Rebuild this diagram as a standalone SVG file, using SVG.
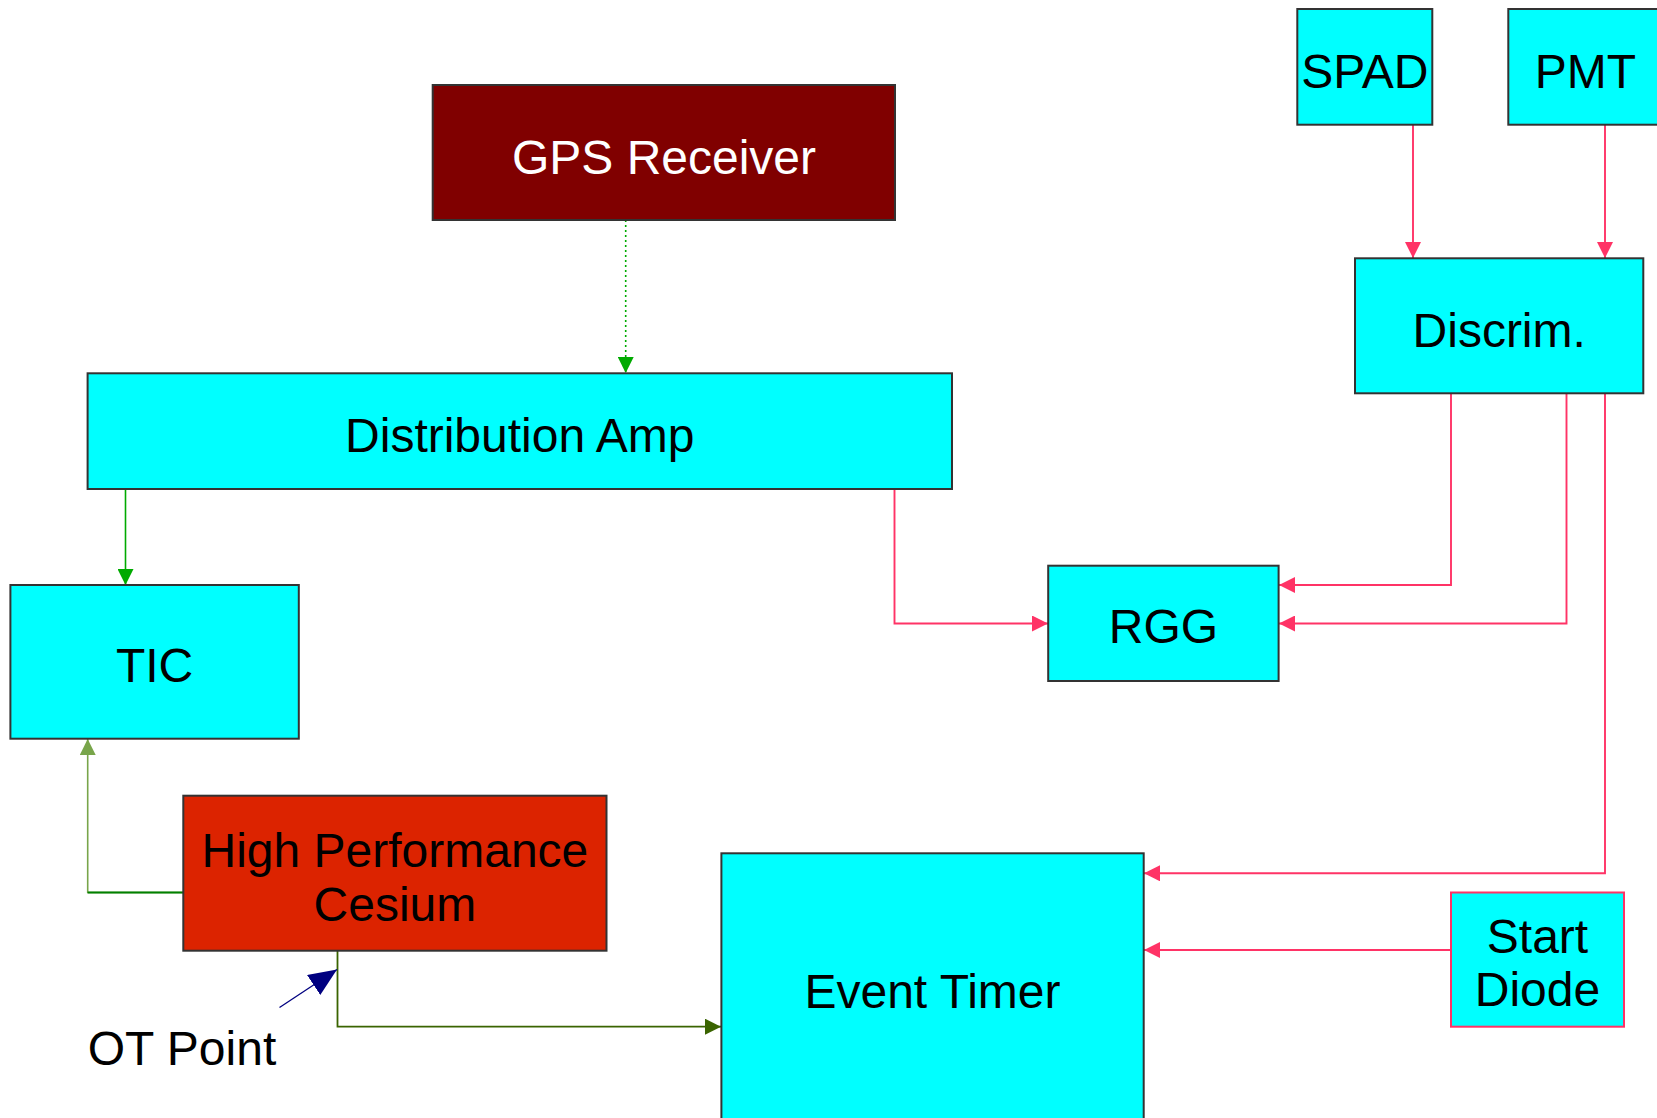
<svg xmlns="http://www.w3.org/2000/svg" width="1657" height="1118" viewBox="0 0 1657 1118">
  <style>
    .box { fill: #00ffff; stroke: #333333; stroke-width: 2; }
    .lbl { font-family: "Liberation Sans", Arial, sans-serif; font-size: 48px; fill: #000000; text-anchor: middle; }
    .pink { fill: none; stroke: #ff3366; stroke-width: 1.9; marker-end: url(#ahPink); }
  </style>
  <defs>
    <marker id="ahPink" markerUnits="userSpaceOnUse" viewBox="0 0 16 16" refX="16" refY="8" markerWidth="16" markerHeight="16" orient="auto">
      <path d="M0,0 L16,8 L0,16 Z" fill="#ff3366"/>
    </marker>
    <marker id="ahGreen" markerUnits="userSpaceOnUse" viewBox="0 0 16 16" refX="16" refY="8" markerWidth="16" markerHeight="16" orient="auto">
      <path d="M0,0 L16,8 L0,16 Z" fill="#00aa00"/>
    </marker>
    <marker id="ahOlive" markerUnits="userSpaceOnUse" viewBox="0 0 16 16" refX="16" refY="8" markerWidth="16" markerHeight="16" orient="auto">
      <path d="M0,0 L16,8 L0,16 Z" fill="#78a54a"/>
    </marker>
    <marker id="ahDark" markerUnits="userSpaceOnUse" viewBox="0 0 16 16" refX="16" refY="8" markerWidth="16" markerHeight="16" orient="auto">
      <path d="M0,0 L16,8 L0,16 Z" fill="#3a6400"/>
    </marker>
    <marker id="ahNavy" markerUnits="userSpaceOnUse" viewBox="0 0 28 24" refX="28" refY="12" markerWidth="28" markerHeight="24" orient="auto">
      <path d="M0,0 L28,12 L0,24 Z" fill="#000080"/>
    </marker>
  </defs>

  <!-- signal paths -->
  <g id="connectors">
    <path d="M625.7,220 V373" fill="none" stroke="#00aa00" stroke-width="1.6" stroke-dasharray="2 3" marker-end="url(#ahGreen)"/>
    <path d="M125.5,489 V585" fill="none" stroke="#00aa00" stroke-width="1.6" marker-end="url(#ahGreen)"/>
    <g>
      <path d="M183,892.5 H87.7 V739" fill="none" stroke="#78a54a" stroke-width="1.6" marker-end="url(#ahOlive)"/>
      <path d="M183,892.5 H87.7" fill="none" stroke="#008000" stroke-width="1.8"/>
    </g>
    <path d="M337.5,951 V1026.7 H721" fill="none" stroke="#3a6400" stroke-width="1.8" marker-end="url(#ahDark)"/>
    <path class="pink" d="M1413,124.7 V258"/>
    <path class="pink" d="M1605,124.7 V258"/>
    <path class="pink" d="M1451,393 V585 H1279"/>
    <path class="pink" d="M1566.5,393 V623.5 H1279"/>
    <path class="pink" d="M1605,393 V873.3 H1144"/>
    <path class="pink" d="M894.5,489 V623.5 H1048"/>
    <path class="pink" d="M1451,950 H1144"/>
    <path d="M279.5,1007.5 L337,969.5" fill="none" stroke="#000080" stroke-width="1.3" marker-end="url(#ahNavy)"/>
  </g>

  <g id="gps-receiver">
    <rect x="432.7" y="85" width="462.3" height="135" fill="#800000" stroke="#333333" stroke-width="2"/>
    <text class="lbl" x="664" y="174" style="fill:#ffffff">GPS Receiver</text>
  </g>

  <g id="spad">
    <rect class="box" x="1297.3" y="9" width="135" height="115.7"/>
    <text class="lbl" x="1364.8" y="88.3">SPAD</text>
  </g>

  <g id="pmt">
    <rect class="box" x="1508.3" y="9" width="160" height="115.7"/>
    <text class="lbl" x="1585.5" y="88.3">PMT</text>
  </g>

  <g id="discrim">
    <rect class="box" x="1355" y="258.3" width="288.3" height="135"/>
    <text class="lbl" x="1499.2" y="346.7">Discrim.</text>
  </g>

  <g id="distribution-amp">
    <rect class="box" x="87.6" y="373.3" width="864.4" height="115.7"/>
    <text class="lbl" x="519.8" y="451.7">Distribution Amp</text>
  </g>

  <g id="tic">
    <rect class="box" x="10.4" y="585" width="288.4" height="153.7"/>
    <text class="lbl" x="154.6" y="681.7">TIC</text>
  </g>

  <g id="rgg">
    <rect class="box" x="1048.2" y="565.7" width="230.4" height="115.3"/>
    <text class="lbl" x="1163.4" y="643.3">RGG</text>
  </g>

  <g id="cesium">
    <rect x="183.3" y="795.7" width="423.2" height="155" fill="#dc2300" stroke="#333333" stroke-width="2"/>
    <text class="lbl" x="394.9" y="867.3">High Performance</text>
    <text class="lbl" x="394.9" y="920.7">Cesium</text>
  </g>

  <g id="event-timer">
    <rect class="box" x="721.4" y="853.3" width="422.3" height="280"/>
    <text class="lbl" x="932.5" y="1008.3">Event Timer</text>
  </g>

  <g id="start-diode">
    <rect x="1451" y="892.5" width="173" height="134.2" fill="#00ffff" stroke="#ff3366" stroke-width="2"/>
    <text class="lbl" x="1537.5" y="953.3">Start</text>
    <text class="lbl" x="1537.5" y="1006">Diode</text>
  </g>

  <g id="ot-point">
    <text x="87.7" y="1065" font-family="Liberation Sans, Arial, sans-serif" font-size="48" fill="#000000">OT Point</text>
  </g>
</svg>
